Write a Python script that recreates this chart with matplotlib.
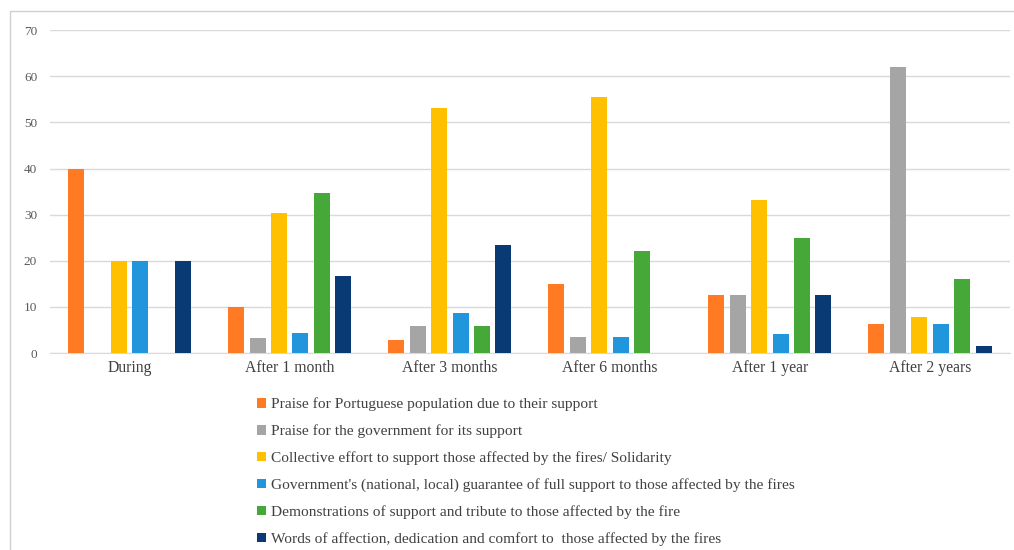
import numpy as np
import matplotlib.pyplot as plt
from matplotlib.patches import Rectangle

categories = ['During', 'After 1 month', 'After 3 months', 'After 6 months', 'After 1 year', 'After 2 years']
series_names = [
    'Praise for Portuguese population due to their support',
    'Praise for the government for its support',
    'Collective effort to support those affected by the fires/ Solidarity',
    "Government's (national, local) guarantee of full support to those affected by the fires",
    'Demonstrations of support and tribute to those affected by the fire',
    'Words of affection, dedication and comfort to  those affected by the fires',
]
praise_population = [40, 10, 2.8, 15, 12.6, 6.4]
praise_government = [0, 3.3, 5.9, 3.5, 12.6, 62.1]
collective_effort = [20, 30.4, 53.1, 55.5, 33.2, 7.9]
gov_guarantee = [20, 4.3, 8.7, 3.5, 4.1, 6.4]
demonstrations = [0, 34.8, 5.9, 22.1, 24.9, 16.0]
words_affection = [20, 16.7, 23.4, 0, 12.6, 1.5]

series = [praise_population, praise_government, collective_effort,
          gov_guarantee, demonstrations, words_affection]
colors = ['#FF7A22', '#A5A5A5', '#FFC000', '#2196DC', '#46A838', '#0A3A73']

plt.rcParams['font.family'] = ['Liberation Serif', 'DejaVu Serif']

fig = plt.figure(figsize=(10.14, 5.5), dpi=100)
ax = fig.add_axes([0.049, 0.358, 0.947, 0.587])

x = np.arange(len(categories))
step = 0.134
width = 0.1
for i, (vals, col, name) in enumerate(zip(series, colors, series_names)):
    ax.bar(x + (i - 2.5) * step, vals, width, color=col, label=name, zorder=3)

ax.set_xlim(-0.5, len(categories) - 0.5)
ax.set_ylim(0, 70)
ax.set_yticks(range(0, 71, 10))
ax.grid(axis='y', color='#D9D9D9', linewidth=1, zorder=0)
for s in ['top', 'right', 'left']:
    ax.spines[s].set_visible(False)
ax.spines['bottom'].set_color('#D9D9D9')
ax.set_xticks(x)
ax.set_xticklabels(categories, fontsize=11.3, color='#404040')
ax.tick_params(axis='x', length=0, pad=5)
ax.tick_params(axis='y', length=0, labelsize=9.5, labelcolor='#595959', pad=9)

handles, labels = ax.get_legend_handles_labels()
fig.legend(handles, labels, loc='upper left', bbox_to_anchor=(0.24, 0.302),
           frameon=False, fontsize=11.05, handlelength=0.55, handleheight=0.55,
           handletextpad=0.35, labelspacing=0.85, labelcolor='#404040')

fig.patches.append(Rectangle((0.01, -0.01), 1.0, 0.99, transform=fig.transFigure,
                             fill=False, edgecolor='#D0D0D0', linewidth=1))

fig.savefig('out.png', dpi=100)
